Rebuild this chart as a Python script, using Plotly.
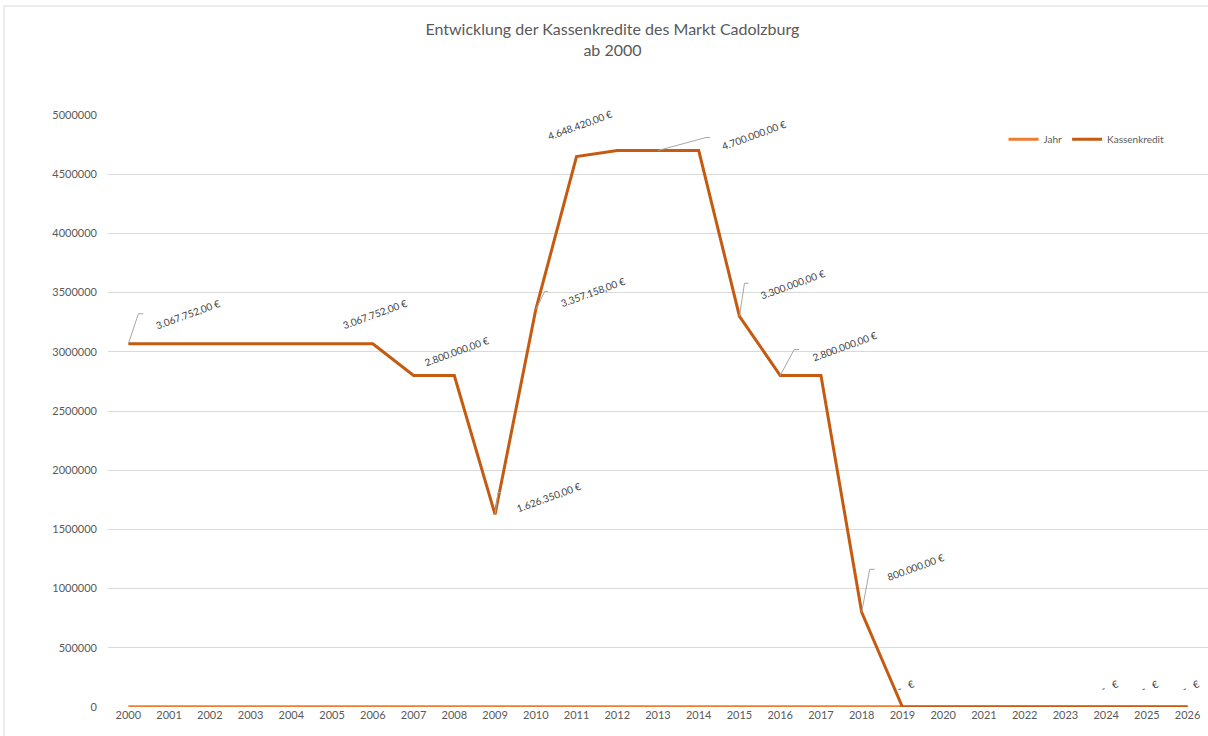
import plotly.graph_objects as go

years = list(range(2000, 2027))
jahr = list(range(2000, 2027))
kassenkredit = [3067752, 3067752, 3067752, 3067752, 3067752, 3067752, 3067752,
                2800000, 2800000, 1626350, 3357158, 4648420, 4700000, 4700000,
                4700000, 3300000, 2800000, 2800000, 800000,
                0, 0, 0, 0, 0, 0, 0, 0]

label_years = [2000, 2006, 2008, 2009, 2010, 2011, 2013, 2015, 2016, 2018, 2019, 2024, 2025, 2026]
label_texts = ["3.067.752,00 €", "3.067.752,00 €", "2.800.000,00 €", "1.626.350,00 €",
               "3.357.158,00 €", "4.648.420,00 €", "4.700.000,00 €", "3.300.000,00 €",
               "2.800.000,00 €", "800.000,00 €", "-   €", "-   €", "-   €", "-   €"]
# label offsets in pixels (dx, dy upward)
label_offsets = [(60, 30), (2, 30), (3, 24), (54, 17), (57, 18), (3, 32), (96, 16),
                 (54, 32), (65, 29), (54, 45), (3, 21), (3, 21), (3, 21), (3, 21)]
# leader line paths (pixel, relative to the point; y up)
leaders = {2000: "M0,0 L10,30 L15,30", 2009: "M0,0 L3,22 L6,22", 2010: "M0,0 L9,18 L12,18",
           2013: "M0,0 L48,13 L52,13", 2015: "M0,0 L5,33 L9,33", 2016: "M0,0 L14,26 L19,26",
           2018: "M0,0 L8,43 L13,43"}

W, H = 1208, 736
ml, mr, mt, mb = 108, 0, 115, 29

fig = go.Figure()
fig.add_trace(go.Scatter(x=years, y=jahr, name="Jahr", mode="lines",
                         line=dict(color="#ED7D31", width=3)))
fig.add_trace(go.Scatter(x=years, y=kassenkredit, name="Kassenkredit", mode="lines",
                         line=dict(color="#C55A11", width=3)))

val = dict(zip(years, kassenkredit))
annotations = []
for yr, txt, (dx, dy) in zip(label_years, label_texts, label_offsets):
    annotations.append(dict(x=yr, y=val[yr], xref="x", yref="y", text=txt, showarrow=False,
                            xshift=dx, yshift=dy, textangle=-20,
                            font=dict(family="Lato, Open Sans, sans-serif", size=10, color="#404040")))

shapes = []
for yr, p in leaders.items():
    shapes.append(dict(type="path", xref="x", yref="y", xsizemode="pixel", ysizemode="pixel",
                       xanchor=yr, yanchor=val[yr], path=p,
                       line=dict(color="#A6A6A6", width=1)))
pw, ph = W - ml - mr, H - mt - mb
bx0 = (4 - ml) / pw
by0 = -(H + 10 - mt - ph) / ph
by1 = 1 + (mt - 6) / ph
bx1 = (W + 10 - ml) / pw
shapes.append(dict(type="path", xref="paper", yref="paper",
                   path=f"M{bx0},{by0} L{bx0},{by1} L{bx1},{by1}",
                   line=dict(color="#D9D9D9", width=1), layer="below"))

fig.update_layout(
    width=W, height=H,
    margin=dict(l=ml, r=mr, t=mt, b=mb),
    paper_bgcolor="white", plot_bgcolor="white",
    font=dict(family="Lato, Open Sans, sans-serif", color="#595959"),
    title=dict(text="Entwicklung der Kassenkredite des Markt Cadolzburg<br>ab 2000",
               x=0.507, xanchor="center", y=0.9524, yanchor="middle",
               font=dict(size=16, color="#595959")),
    xaxis=dict(range=[1999.5, 2026.5], tickmode="array", tickvals=years,
               ticktext=[str(y) for y in years], showgrid=False, zeroline=False,
               showline=False, ticks="", tickfont=dict(size=11, color="#595959")),
    yaxis=dict(range=[0, 5000000], dtick=500000, tickformat="d", showgrid=True,
               gridcolor="#D9D9D9", gridwidth=1, zeroline=False, showline=False,
               ticks="", ticklabelstandoff=10, tickfont=dict(size=11, color="#595959")),
    legend=dict(orientation="h", x=0.965, xanchor="right", y=0.959, yanchor="middle",
                font=dict(size=10, color="#595959"), bgcolor="rgba(0,0,0,0)"),
    annotations=annotations, shapes=shapes,
    showlegend=True,
)
fig.write_html("out.html", config={"displayModeBar": False},
               post_script="document.body.style.margin='0';document.body.style.overflow='hidden';")
